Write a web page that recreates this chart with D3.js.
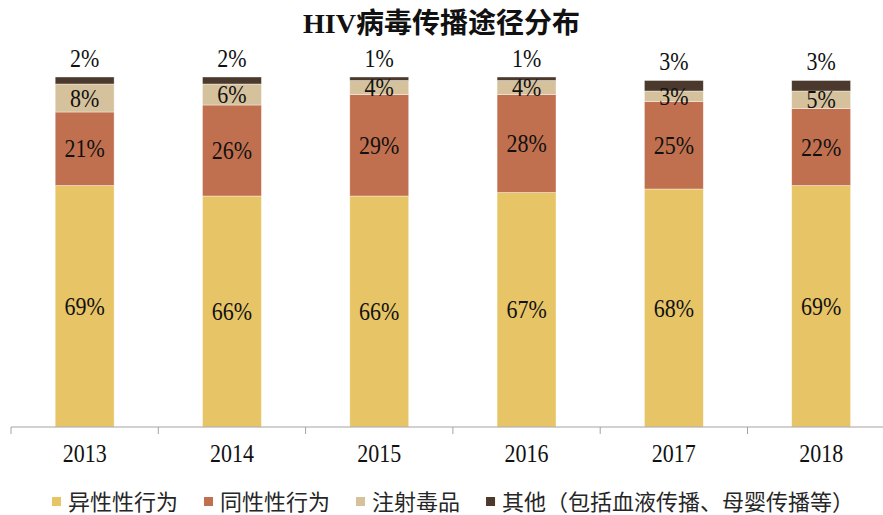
<!DOCTYPE html>
<meta charset="utf-8">
<html>
<head>
    <title>HIV病毒传播途径分布</title>
    <style>
        body { margin: 0; background: #fff; }
        svg { display: block; }
        .pct { font-family: "Liberation Serif", "Times New Roman", serif; font-size: 22px; fill: #111; text-anchor: middle; }
        .year { font-family: "Liberation Serif", "Times New Roman", serif; font-size: 22px; fill: #111; text-anchor: middle; }
        .legend text { font-family: "Noto Sans CJK SC", sans-serif; font-size: 22px; fill: #262626; }
    </style>
    <script src="https://d3js.org/d3.v7.min.js"></script>
</head>
<body>
<div id="chart-container"></div>
<script>
    // data (percent)
    const years = ["2013", "2014", "2015", "2016", "2017", "2018"];
    const hetero = [69, 66, 66, 67, 68, 69];
    const homo = [21, 26, 29, 28, 25, 22];
    const drug = [8, 6, 4, 4, 3, 5];
    const other = [2, 2, 1, 1, 3, 3];
    const seriesNames = ["异性性行为", "同性性行为", "注射毒品", "其他（包括血液传播、母婴传播等）"];
    const colors = ["#E7C466", "#C1704F", "#D5C19C", "#4A392C"];

    const width = 883, height = 515;

    const rows = years.map((y, i) => ({
        year: y,
        [seriesNames[0]]: hetero[i],
        [seriesNames[1]]: homo[i],
        [seriesNames[2]]: drug[i],
        [seriesNames[3]]: other[i]
    }));

    const stacked = d3.stack().keys(seriesNames)(rows);

    const svg = d3.select("#chart-container")
        .append("svg")
        .attr("width", width)
        .attr("height", height);

    // plot runs a little past the right edge, like the original
    const x0 = 11, step = 147.3;
    const x = d3.scaleBand()
        .domain(years)
        .range([x0, x0 + step * years.length])
        .paddingInner(0.6)
        .paddingOuter(0.3);

    const y = d3.scaleLinear()
        .domain([0, 100])
        .range([427, 77]);

    const color = d3.scaleOrdinal().domain(seriesNames).range(colors);

    // the original's serif digits are a bit taller than wide
    const stretch = (px, py) => "translate(" + px + "," + py + ") scale(1,1.12)";

    // title
    const title = svg.append("text")
        .attr("x", width / 2)
        .attr("y", 33)
        .attr("text-anchor", "middle")
        .style("font-size", "28px")
        .style("fill", "#111");
    title.append("tspan")
        .style("font-family", "'Liberation Serif', serif")
        .style("font-weight", "bold")
        .text("HIV");
    title.append("tspan")
        .style("font-family", "'Noto Sans CJK SC', sans-serif")
        .style("font-weight", "bold")
        .text("病毒传播途径分布");

    // bars
    svg.append("g")
        .selectAll("g")
        .data(stacked)
        .enter().append("g")
        .attr("fill", d => color(d.key))
        .selectAll("rect")
        .data(d => d)
        .enter().append("rect")
        .attr("x", d => x(d.data.year))
        .attr("width", x.bandwidth())
        .attr("y", d => y(d[1]))
        .attr("height", d => y(d[0]) - y(d[1]))
        .attr("stroke", "rgba(255,255,255,0.55)")
        .attr("stroke-width", 0.7);

    // labels: first three inside, the last one above the bar
    stacked.forEach((s, si) => {
        svg.append("g")
            .selectAll("text")
            .data(s)
            .enter().append("text")
            .attr("class", "pct")
            .attr("transform", d => stretch(
                x(d.data.year) + x.bandwidth() / 2,
                si === stacked.length - 1 ? y(d[1]) - 19 : (y(d[0]) + y(d[1])) / 2))
            .attr("dy", "0.35em")
            .text(d => (d[1] - d[0]) + "%");
    });

    // axis: line with ticks between categories
    const axis = svg.append("g");
    axis.append("line")
        .attr("x1", x0).attr("x2", x0 + step * years.length)
        .attr("y1", y(0)).attr("y2", y(0))
        .attr("stroke", "#a3a3a3").attr("stroke-width", 1);
    axis.selectAll(".tick")
        .data(d3.range(years.length + 1))
        .enter().append("line")
        .attr("x1", i => x0 + i * step).attr("x2", i => x0 + i * step)
        .attr("y1", y(0)).attr("y2", y(0) + 7)
        .attr("stroke", "#a3a3a3").attr("stroke-width", 1);
    axis.selectAll(".year")
        .data(years)
        .enter().append("text")
        .attr("class", "year")
        .attr("transform", d => stretch(x(d) + x.bandwidth() / 2, 453))
        .attr("dy", "0.35em")
        .text(d => d);

    // legend, laid out left to right
    const legend = svg.append("g").attr("class", "legend");
    let lx = 52;
    seriesNames.forEach(name => {
        const g = legend.append("g").attr("transform", "translate(" + lx + ",0)");
        g.append("rect")
            .attr("x", 0).attr("y", 497)
            .attr("width", 9).attr("height", 9)
            .attr("fill", color(name));
        const t = g.append("text")
            .attr("x", 16).attr("y", 502)
            .attr("dy", "0.35em")
            .text(name);
        lx += 16 + t.node().getComputedTextLength() + 26;
    });
</script>
</body>
</html>
